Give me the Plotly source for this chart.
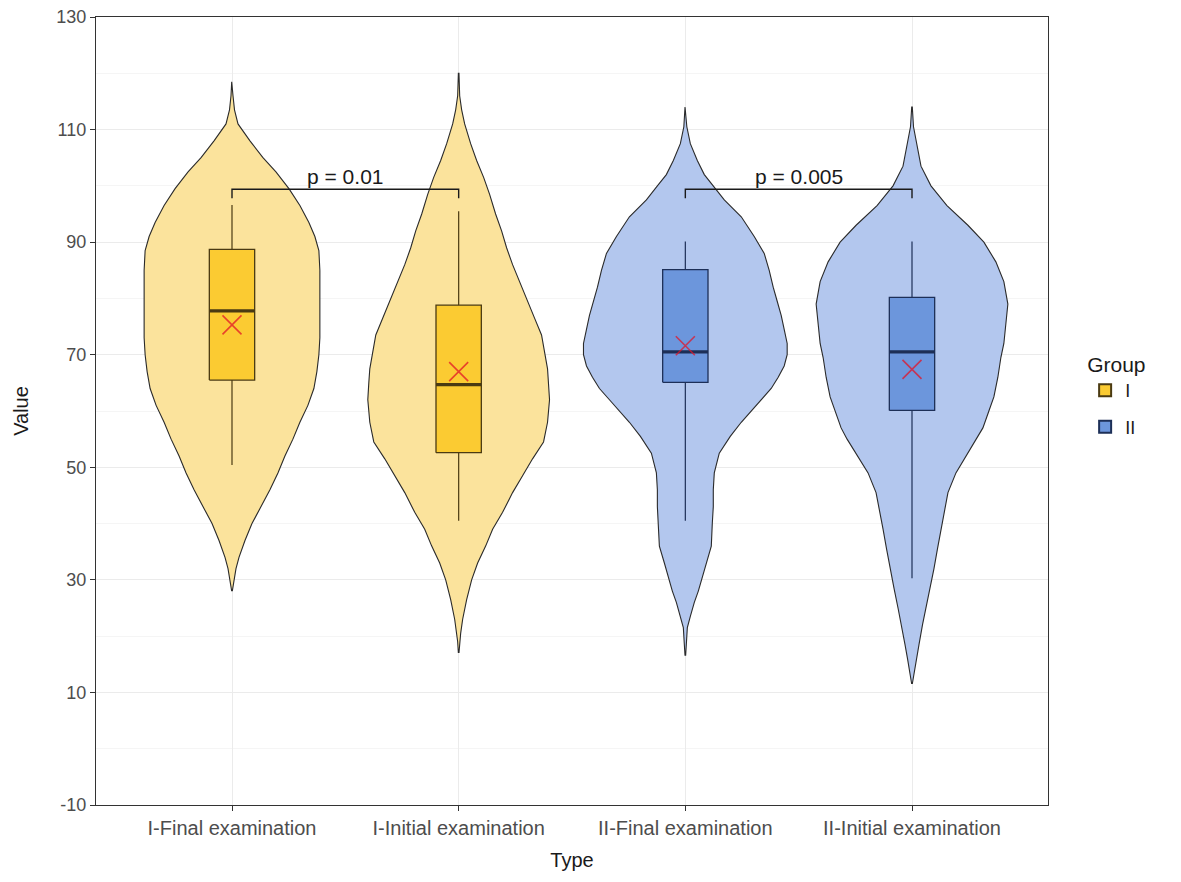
import plotly.graph_objects as go

# ---------------- data ----------------
categories = ["I-Final examination", "I-Initial examination",
              "II-Final examination", "II-Initial examination"]
groups = ["I", "I", "II", "II"]

# violin outlines: value grid and density half-width (px units)
v1_vals = [28.0, 30.0, 32.0, 34.0, 37.0, 40.0, 43.0, 46.0, 49.0, 52.0, 55.0, 58.0, 61.0, 64.0,
           67.0, 70.0, 73.0, 76.0, 79.0, 82.0, 85.0, 88.5, 91.0, 93.5, 96.5, 99.5, 102.5, 105.0,
           108.0, 111.0, 113.5, 116.0, 118.5]
v1_dens = [0.3, 2, 4, 7, 13, 20, 29, 38, 46, 53, 61, 68, 76, 82, 85, 87, 88, 88, 88, 88, 88, 87,
           83, 77, 68, 57, 44, 31, 18, 6, 2.5, 1, 0.3]

v2_vals = [17, 19, 20.5, 23, 26.5, 30, 33, 36, 39, 42, 45.5, 48.5, 51.5, 54.5, 58, 62, 65, 67.5,
           70.5, 73.5, 76.5, 79.5, 83, 86, 89, 92, 95, 98.5, 101.5, 104.5, 107.5, 111, 113.5, 116, 120]
v2_dens = [0.3, 1, 2, 4, 8, 13, 19, 27, 34, 44, 54, 64, 74, 85, 89, 91, 90, 89, 86, 83, 76, 69,
           61, 54, 48, 43, 37, 31, 25, 18, 12, 6, 3, 1, 0.3]

v3_vals = [16.5, 18.5, 21.5, 23.5, 26, 28, 30.5, 33, 36, 40, 43, 46, 49, 52.5, 55.5, 58, 60, 62,
           64, 66, 68, 70, 72, 74.5, 77, 79.5, 82, 85, 88, 91, 94.5, 97.5, 100, 102, 104.5, 107.5,
           110.5, 114]
v3_dens = [0.3, 1, 2, 5, 9, 13, 17, 21, 26, 27, 28, 28, 29, 34, 45, 56, 66, 76, 86, 93, 99, 102,
           102, 99, 96, 92, 88, 84, 79, 69, 56, 39, 28, 19, 12, 5, 1.5, 0.3]

v4_vals = [11.5, 13.5, 16, 18.5, 22, 25, 28.5, 32, 35.5, 39, 42, 45.5, 49, 52.5, 55, 57, 60, 62.5,
           66, 69.5, 72, 75, 79, 83, 86.5, 90, 93, 96.5, 100, 103.5, 107, 110.5, 114]
v4_dens = [0.3, 2, 4.5, 7, 10.5, 14, 18, 22, 25.5, 29, 32, 36, 44, 56, 65, 71, 77, 82, 86, 89, 92,
           94, 96, 92, 84, 72, 56, 35, 19, 9, 5, 1.5, 0.3]

# boxplot statistics
lower = [50.4, 40.5, 40.5, 30.3]
q1 = [65.5, 52.6, 65.1, 60.1]
median = [77.8, 64.7, 70.5, 70.5]
q3 = [88.7, 78.8, 85.1, 80.2]
upper = [96.6, 95.5, 90.1, 90.1]
means = [75.3, 67.0, 71.6, 67.4]

# significance brackets
brackets = [(0, 1, "p = 0.01"), (2, 3, "p = 0.005")]
bracket_y = 99.4
bracket_tip = 1.6

y_ticks = [-10, 10, 30, 50, 70, 90, 110, 130]

# ---------------- style ----------------
violin_fill = {"I": "#FBE39C", "II": "#B3C7EE"}
box_fill = {"I": "#FBCB32", "II": "#6C96DC"}
box_line = {"I": "#4a3a12", "II": "#1d2f57"}
outline = "#2a2a2a"
DENS_SCALE = 1 / 227.0   # px density -> x units
BOX_W = 0.2
FONT = "Liberation Sans, Arial, sans-serif"

pos = [1, 2, 3, 4]
violins = [(v1_vals, v1_dens), (v2_vals, v2_dens), (v3_vals, v3_dens), (v4_vals, v4_dens)]

fig = go.Figure()

# legend entries (box glyphs); plotly draws box layer below scatter layer
for g in ["I", "II"]:
    idx = [i for i in range(4) if groups[i] == g]
    fig.add_trace(go.Box(
        x=[pos[i] for i in idx],
        q1=[q1[i] for i in idx], median=[median[i] for i in idx], q3=[q3[i] for i in idx],
        lowerfence=[lower[i] for i in idx], upperfence=[upper[i] for i in idx],
        width=BOX_W, whiskerwidth=0, boxpoints=False,
        fillcolor=box_fill[g], line=dict(color=box_line[g], width=1.3),
        name=g, legendgroup=g, showlegend=True, hoverinfo="skip"))

for i, (vals, dens) in enumerate(violins):
    g = groups[i]
    xs = [pos[i] + d * DENS_SCALE for d in dens] + [pos[i] - d * DENS_SCALE for d in dens[::-1]]
    ys = list(vals) + list(vals[::-1])
    fig.add_trace(go.Scatter(x=xs, y=ys, mode="lines", fill="toself",
                             fillcolor=violin_fill[g],
                             line=dict(color=outline, width=1.1),
                             showlegend=False, hoverinfo="skip"))

for i in range(4):
    g = groups[i]
    p = pos[i]
    h = BOX_W / 2
    # whiskers
    fig.add_trace(go.Scatter(x=[p, p, None, p, p], y=[upper[i], q3[i], None, q1[i], lower[i]],
                             mode="lines", line=dict(color=box_line[g], width=1.2),
                             showlegend=False, hoverinfo="skip"))
    # box body
    fig.add_trace(go.Scatter(x=[p - h, p + h, p + h, p - h, p - h],
                             y=[q1[i], q1[i], q3[i], q3[i], q1[i]],
                             mode="lines", fill="toself", fillcolor=box_fill[g],
                             line=dict(color=box_line[g], width=1.3),
                             showlegend=False, hoverinfo="skip"))
    # median
    fig.add_trace(go.Scatter(x=[p - h, p + h], y=[median[i], median[i]], mode="lines",
                             line=dict(color=box_line[g], width=3.2),
                             showlegend=False, hoverinfo="skip"))

fig.add_trace(go.Scatter(x=pos, y=means, mode="markers",
                         marker=dict(symbol="x-thin", size=19,
                                     line=dict(color="rgba(225,20,40,0.75)", width=1.6)),
                         showlegend=False))

for a, b, label in brackets:
    fig.add_trace(go.Scatter(x=[pos[a], pos[a], pos[b], pos[b]],
                             y=[bracket_y - bracket_tip, bracket_y, bracket_y, bracket_y - bracket_tip],
                             mode="lines", line=dict(color="#1a1a1a", width=1.4),
                             showlegend=False, hoverinfo="skip"))
    fig.add_annotation(x=(pos[a] + pos[b]) / 2, y=bracket_y, text=label, showarrow=False,
                       yanchor="bottom", yshift=-1,
                       font=dict(family=FONT, size=21, color="#1a1a1a"))

# page body has an 8px margin, so the figure is sized to fit inside it
fig.update_layout(
    width=1165, height=866,
    margin=dict(l=88, r=125, t=9, b=69),
    paper_bgcolor="white", plot_bgcolor="white",
    boxmode="overlay",
    font=dict(family=FONT, color="#000000"),
    legend=dict(title=dict(text="Group", font=dict(size=21, color="#1a1a1a")),
                font=dict(size=18, color="#1a1a1a"),
                x=1.039, y=0.52, xanchor="left", yanchor="middle",
                tracegroupgap=10, itemsizing="constant"),
    showlegend=True,
)

fig.update_xaxes(range=[0.4, 4.6], tickvals=pos, ticktext=categories,
                 automargin=False,
                 showgrid=True, gridcolor="#ebebeb", gridwidth=1,
                 showline=True, linecolor="#333333", linewidth=1.3, mirror=True,
                 ticks="outside", ticklen=5, tickcolor="#333333",
                 tickfont=dict(size=20, color="#4d4d4d"),
                 title=dict(text="Type", font=dict(size=20, color="#1a1a1a"), standoff=14),
                 zeroline=False)
fig.update_yaxes(range=[-10, 130], tickvals=y_ticks, ticktext=[str(v) for v in y_ticks],
                 automargin=False, ticklabeloverflow="allow",
                 showgrid=True, gridcolor="#ebebeb", gridwidth=1,
                 minor=dict(dtick=10, tick0=0, showgrid=True, gridcolor="#f5f5f5", ticks=""),
                 showline=True, linecolor="#333333", linewidth=1.3, mirror=True,
                 ticks="outside", ticklen=5, tickcolor="#333333",
                 tickfont=dict(size=18, color="#4d4d4d"),
                 title=dict(text="Value", font=dict(size=20, color="#1a1a1a"), standoff=22),
                 zeroline=False)

fig.write_html("out.html")
